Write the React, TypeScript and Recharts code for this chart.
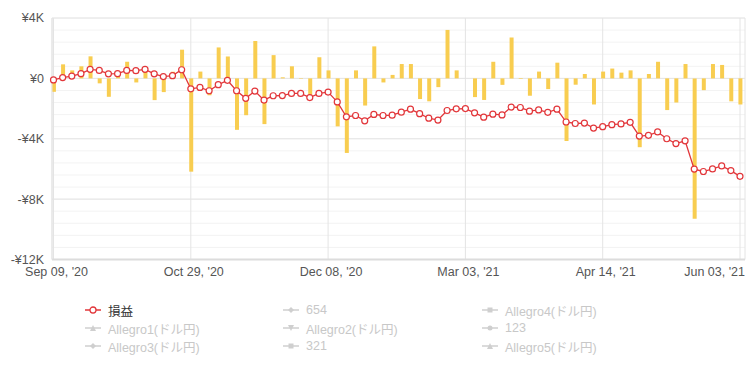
import { ComposedChart, Bar, Line, XAxis, YAxis, CartesianGrid } from "recharts";

// daily P/L (bars) and running P/L (line), yen
const DAILY_PL = [
  -890, 930, 530, 800, 1460, -330, -1220, 200, 1100, -270,
  500, -1440, -910, 440, 1900, -6180, 450, -1120, 2050, 1450,
  -3410, -2440, 2480, -3030, 1540, 70, 800, -30, -1100, 1400,
  530, -3180, -4940, 530, -1800, 2120, -270, 230, 950, 950,
  -1370, -1520, -580, 3210, 530, 0, -1240, -1430, 1100, -430,
  2700, -40, -1150, 450, -710, 1040, -4150, -420, 290, -1730,
  450, 650, 380, 530, -4560, 290, 1100, -2100, -1600, 950,
  -9300, -780, 950, 890, -1520, -1730,
];

const TOTAL_PL = [
  -100, 50, 150, 310, 600, 530, 300, 310, 530, 510,
  600, 300, 120, 180, 570, -690, -600, -820, -420, -130,
  -820, -1320, -840, -1440, -1150, -1140, -1000, -1000, -1270, -1000,
  -910, -1560, -2550, -2460, -2810, -2390, -2460, -2440, -2240, -2040,
  -2340, -2640, -2760, -2130, -2020, -2000, -2280, -2570, -2370, -2420,
  -1900, -1930, -2170, -2090, -2250, -2040, -2890, -2990, -2960, -3290,
  -3200, -3070, -3020, -2910, -3820, -3770, -3550, -4000, -4320, -4140,
  -6010, -6170, -6000, -5800, -6110, -6490,
];

const X_TICK_INDEX = [0, 15, 30, 45, 60, 75];
const X_TICK_LABELS = ["Sep 09, '20", "Oct 29, '20", "Dec 08, '20", "Mar 03, '21", "Apr 14, '21", "Jun 03, '21"];
const Y_TICKS = [4000, 0, -4000, -8000, -12000];

const LEGEND_NAMES = [
  "損益", "654", "Allegro4(ドル円)",
  "Allegro1(ドル円)", "Allegro2(ドル円)", "123",
  "Allegro3(ドル円)", "321", "Allegro5(ドル円)",
];
const LEGEND_SHAPES = [
  "circle", "diamond", "square",
  "triangle", "triangleDown", "circle",
  "diamond", "square", "triangle",
];

const RED = "#e2363a";
const YELLOW = "#f8cd50";
const MINOR_LINES = Array.from({ length: 21 }, (_, k) => 4000 - k * 800);

const data = DAILY_PL.map((v, i) => ({ i, daily: v, total: TOTAL_PL[i] }));

const fmtYen = (v: number) => {
  if (v === 0) return "¥0";
  return (v < 0 ? "-" : "") + "¥" + Math.abs(v) / 1000 + "K";
};

// last label is pulled in so it stays inside the chart
function DateTick(props: any) {
  const { x, y, payload } = props;
  const k = X_TICK_INDEX.indexOf(payload.value);
  if (k < 0) return null;
  const last = k === X_TICK_INDEX.length - 1;
  return (
    <text
      x={last ? x + 5 : x + 3}
      y={y}
      dy="0.71em"
      textAnchor={last ? "end" : "middle"}
      fill="#555"
      fontSize={12.5}
    >
      {X_TICK_LABELS[k]}
    </text>
  );
}

function Marker({ shape, active }: { shape: string; active: boolean }) {
  const c = active ? RED : "#cfcfcf";
  let sym;
  if (shape === "circle") {
    sym = active
      ? <circle cx={8} cy={5} r={3} fill="#fff" stroke={c} strokeWidth={1.3} />
      : <circle cx={8} cy={5} r={2.5} fill={c} />;
  } else if (shape === "square") {
    sym = <rect x={5.5} y={2.5} width={5} height={5} fill={c} />;
  } else if (shape === "diamond") {
    sym = <polygon points="8,2 11,5 8,8 5,5" fill={c} />;
  } else if (shape === "triangle") {
    sym = <polygon points="8,2 11,8 5,8" fill={c} />;
  } else {
    sym = <polygon points="5,2 11,2 8,8" fill={c} />;
  }
  return (
    <svg width={16} height={10} style={{ display: "block" }}>
      <line x1={0} y1={5} x2={16} y2={5} stroke={c} strokeWidth={1.5} />
      {sym}
    </svg>
  );
}

function ChartLegend() {
  const colX = [108, 306, 505];
  const rowY = [310, 328, 346];
  return (
    <>
      {LEGEND_NAMES.map((name, k) => {
        const active = k === 0;
        return (
          <div
            key={name}
            style={{
              position: "absolute",
              left: colX[k % 3] - 23,
              top: rowY[Math.floor(k / 3)] - 8,
              height: 16,
              display: "flex",
              alignItems: "center",
              gap: 7,
              fontSize: 12.5,
              color: active ? "#333" : "#c8c8c8",
              whiteSpace: "nowrap",
            }}
          >
            <Marker shape={LEGEND_SHAPES[k]} active={active} />
            <span>{name}</span>
          </div>
        );
      })}
    </>
  );
}

export default function App() {
  return (
    <div
      style={{
        position: "absolute",
        left: 0,
        top: 0,
        width: 752,
        height: 376,
        background: "#fff",
        fontFamily: "'Liberation Sans', Arial, 'Noto Sans CJK JP', sans-serif",
      }}
    >
      <ComposedChart
        width={752}
        height={290}
        data={data}
        margin={{ top: 18, right: 7, bottom: 0, left: 0 }}
      >
        <CartesianGrid
          horizontalValues={MINOR_LINES}
          vertical={false}
          stroke="#f3f3f3"
        />
        <CartesianGrid stroke="#e4e4e4" />
        <XAxis
          dataKey="i"
          type="number"
          domain={[0, 75]}
          ticks={X_TICK_INDEX}
          tick={<DateTick />}
          padding={{ left: 1.5, right: 5 }}
          tickLine={false}
          axisLine={{ stroke: "#dcdcdc", strokeWidth: 2 }}
          height={30.5}
          interval={0}
        />
        <YAxis
          domain={[-12000, 4000]}
          ticks={Y_TICKS}
          tickFormatter={fmtYen}
          tickLine={false}
          axisLine={{ stroke: "#e4e4e4" }}
          tick={{ fill: "#555", fontSize: 12.5 }}
          width={52}
          interval={0}
        />
        <Bar dataKey="daily" fill={YELLOW} barSize={4} isAnimationActive={false} />
        <Line
          dataKey="total"
          stroke={RED}
          strokeWidth={1.3}
          dot={{ r: 3, fill: "#fff", stroke: RED, strokeWidth: 1.2 }}
          activeDot={false}
          isAnimationActive={false}
        />
      </ComposedChart>
      <ChartLegend />
    </div>
  );
}
